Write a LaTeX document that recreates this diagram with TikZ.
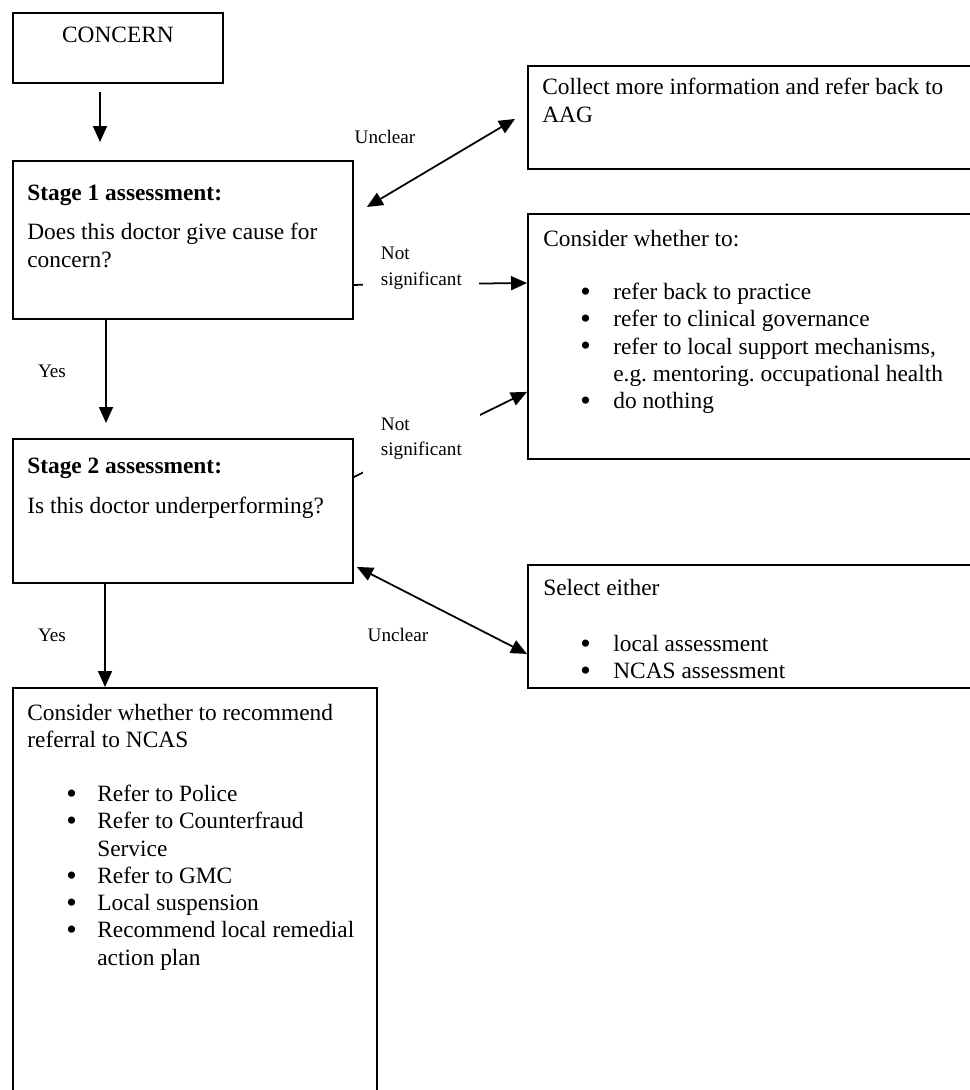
\documentclass[tikz,border=0pt]{standalone}
\usepackage{fontspec}
\setmainfont{Liberation Serif}
\usetikzlibrary{arrows.meta,calc}

\newcommand{\mainsize}{\fontsize{13.3}{15.5}\selectfont\frenchspacing}
\newcommand{\lblsize}{\fontsize{10.9}{14.5}\selectfont}
\newcommand{\bigdot}{\raisebox{-0.9pt}{\fontsize{17}{15.5}\selectfont\textbullet}}
\newcommand{\bitem}[1]{\hspace*{0.78cm}\makebox[0.62cm][l]{\bigdot}#1}
\newcommand{\ritem}[1]{\hspace*{0.74cm}\makebox[0.66cm][l]{\bigdot}#1}

\begin{document}
\begin{tikzpicture}[x=0.02cm, y=-0.02cm,
    box/.style={draw, line width=1.1pt, anchor=north west, inner sep=0pt},
    boxtext/.style={anchor=north west, align=left, inner sep=0pt, font=\mainsize},
    lbl/.style={align=left, inner sep=0pt, font=\lblsize},
    arr/.style={line width=1pt, -{Triangle[length=0.32cm,width=0.28cm]}},
    dblarr/.style={line width=1pt, {Triangle[length=0.32cm,width=0.28cm]}-{Triangle[length=0.32cm,width=0.28cm]}}]
  \useasboundingbox (0,0) rectangle (970,1090);
  \fill[white] (0,0) rectangle (970,1090);
  \clip (0,0) rectangle (970,1090);

  \node[box, minimum width=4.2cm, minimum height=1.4cm] (concern) at (12,12) {};
  \node[box, minimum width=6.8cm, minimum height=3.16cm] (stageone) at (12,160) {};
  \node[box, minimum width=6.8cm, minimum height=2.88cm] (stagetwo) at (12,438) {};
  \node[box, minimum width=7.28cm, minimum height=8.26cm] (refer) at (12,687) {};
  \node[box, minimum width=9.16cm, minimum height=2.06cm] (collect) at (527,65) {};
  \node[box, minimum width=9.16cm, minimum height=4.9cm] (consider) at (527,213) {};
  \node[box, minimum width=9.16cm, minimum height=2.46cm] (select) at (527,564) {};

  \node[boxtext, anchor=center] (concerntxt) at ($(concern.north)+(0,23)$) {CONCERN};
  \node[boxtext] (stageonetxt) at ($(stageone.north west)+(15,25)$)
    {\textbf{Stage 1 assessment:}\\[6.7pt]Does this doctor give cause for\\concern?};
  \node[boxtext] (stagetwotxt) at ($(stagetwo.north west)+(15,20)$)
    {\textbf{Stage 2 assessment:}\\[7.2pt]Is this doctor underperforming?};
  \node[boxtext] (refertxt) at ($(refer.north west)+(15,17)$)
    {Consider whether to recommend\\referral to NCAS\\[15.2pt]
     \bitem{Refer to Police}\\
     \bitem{Refer to Counterfraud}\\
     \hspace*{1.4cm}Service\\
     \bitem{Refer to GMC}\\
     \bitem{Local suspension}\\
     \bitem{Recommend local remedial}\\
     \hspace*{1.4cm}action plan};
  \node[boxtext] (collecttxt) at ($(collect.north west)+(15,13)$)
    {Collect more information and refer back to\\AAG};
  \node[boxtext] (considertxt) at ($(consider.north west)+(16,17)$)
    {Consider whether to:\\[14.7pt]
     \ritem{refer back to practice}\\
     \ritem{refer to clinical governance}\\
     \ritem{refer to local support mechanisms,}\\
     \hspace*{1.4cm}e.g. mentoring. occupational health\\
     \ritem{do nothing}};
  \node[boxtext] (selecttxt) at ($(select.north west)+(16,15)$)
    {Select either\\[16.4pt]
     \ritem{local assessment}\\
     \ritem{NCAS assessment}};

  \draw[arr] ($(concern.south west)+(88,8)$) -- ($(stageone.north west)+(88,-18)$);
  \draw[arr] ($(stageone.south west)+(94,0)$) -- ($(stagetwo.north west)+(94,-15)$)
    node[lbl, midway, xshift=-1.08cm] {Yes};
  \draw[arr] ($(stagetwo.south west)+(93,0)$) -- ($(refer.north west)+(93,0)$)
    node[lbl, midway, xshift=-1.06cm] {Yes};

  \draw[arr] ($(stageone.south east)+(0,-35)$) -- ($(consider.north west)+(0,70)$)
    node[lbl, pos=0.39, fill=white, inner xsep=0.35cm, inner ysep=2pt, yshift=0.32cm] {Not\\significant};
  \draw[arr] ($(stagetwo.north east)+(0,39)$) -- ($(consider.south west)+(0,-68)$)
    node[lbl, pos=0.39, fill=white, minimum width=2.34cm, minimum height=1.46cm, yshift=0.1cm] {Not\\significant};

  \draw[dblarr] ($(stageone.north east)+(13,47)$) -- ($(collect.south west)+(-12,-51)$);
  \node[lbl] (unclearone) at (385,137) {Unclear};
  \draw[dblarr] ($(stagetwo.south east)+(3,-17)$) -- ($(select.south west)+(0,-35)$);
  \node[lbl] (uncleartwo) at (398,635) {Unclear};
\end{tikzpicture}
\end{document}
